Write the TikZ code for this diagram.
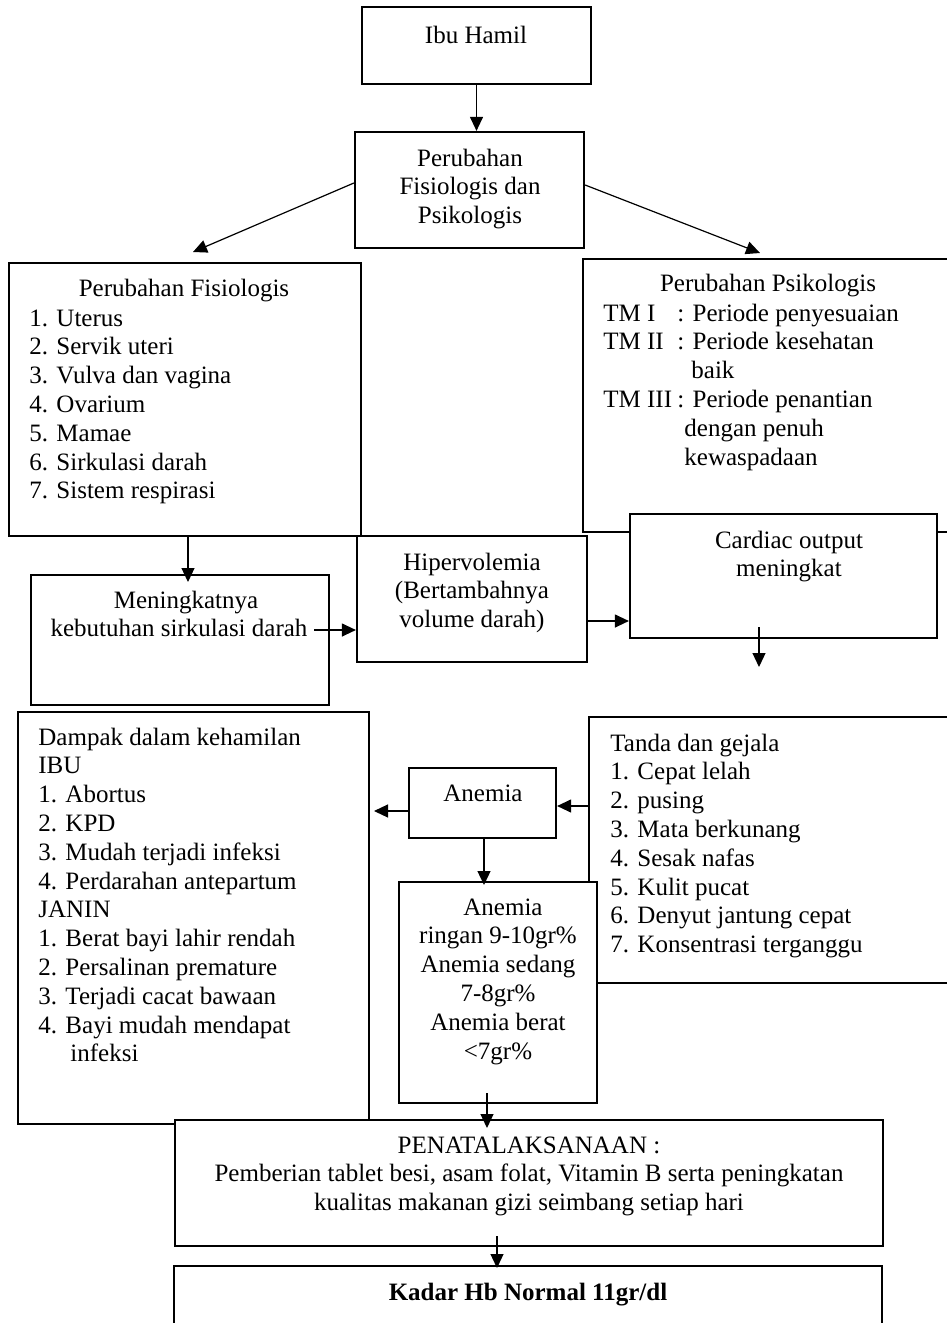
\documentclass[tikz,border=0pt]{standalone}
\usepackage{fontspec}
\setmainfont{Liberation Serif}
\usetikzlibrary{fit,calc,arrows.meta}
\begin{document}
\begin{tikzpicture}[x=0.5pt,y=-0.5pt,
 box/.style={draw, line width=1.1pt, fill=white, inner sep=0pt},
 txt/.style={inner sep=0pt, anchor=north, font=\fontsize{12.5}{14.4}\selectfont},
 arr/.style={line width=0.6pt, -{Triangle[length=7pt,width=6.5pt]}}]
\useasboundingbox (0,0) rectangle (947,1323);
\fill[white] (0,0) rectangle (947,1323);
% boxes
\node[box, fit={(362,7) (591,84)}] (ibu) {};
\node[box, fit={(355,132) (584,248)}] (pfp) {};
\node[box, fit={(9,263) (361,536)}] (fis) {};
\node[box, fit={(583,259) (965,532)}] (psi) {};
\node[box, fit={(630,514) (937,638)}] (car) {};
\node[box, fit={(357,536) (587,662)}] (hip) {};
\node[box, fit={(31,575) (329,705)}] (men) {};
\node[box, fit={(18,712) (369,1124)}] (dam) {};
\node[box, fit={(589,717) (965,983)}] (tan) {};
\node[box, fit={(409,768) (556,838)}] (ane) {};
\node[box, fit={(399,882) (597,1103)}] (rin) {};
\node[box, fit={(175,1120) (883,1246)}] (pen) {};
\node[box, fit={(174,1266) (882,1345)}] (kad) {};
% texts
\node[txt] (tIbu) at (476,22.5) {\strut Ibu Hamil};
\node[txt, align=center] (tPfp) at (470,145.5) {\strut Perubahan\\Fisiologis dan\\Psikologis};
\node[txt] (tFisT) at (184,275.5) {\strut Perubahan Fisiologis};
\node[txt, anchor=north west, align=left] (tFis) at (29,305.5) {\strut 1. Uterus\\2. Servik uteri\\3. Vulva dan vagina\\4. Ovarium\\5. Mamae\\6. Sirkulasi darah\\7. Sistem respirasi};
\node[txt] (tPsiT) at (768,270.5) {\strut Perubahan Psikologis};
\node[txt, anchor=north west, align=left] (tPsi) at (603,300.5) {\strut\makebox[37pt][l]{TM I}: Periode penyesuaian\\\makebox[37pt][l]{TM II}: Periode kesehatan\\\hspace*{44pt}baik\\\makebox[37pt][l]{TM III}: Periode penantian\\\hspace*{40.5pt}dengan penuh\\\hspace*{40.5pt}kewaspadaan};
\node[txt, align=center] (tCar) at (789,527.5) {\strut Cardiac output\\meningkat};
\node[txt, align=center] (tHip) at (472,549.5) {\strut Hipervolemia\\(Bertambahnya\\volume darah)};
\node[txt, align=center] (tMen) at (179,587.5) {\strut\hspace*{7pt}Meningkatnya\\kebutuhan sirkulasi darah};
\node[txt, anchor=north west, align=left] (tDam) at (38,724.5) {\strut Dampak dalam kehamilan\\IBU\\1. Abortus\\2. KPD\\3. Mudah terjadi infeksi\\4. Perdarahan antepartum\\JANIN\\1. Berat bayi lahir rendah\\2. Persalinan premature\\3. Terjadi cacat bawaan\\4. Bayi mudah mendapat\\\hspace*{16pt}infeksi};
\node[txt] (tAne) at (483,780.5) {\strut Anemia};
\node[txt, align=center] (tRin) at (498,894.5) {\strut\hspace*{5pt}Anemia\\ringan 9-10gr\%\\Anemia sedang\\7-8gr\%\\Anemia berat\\<7gr\%};
\node[txt, anchor=north west, align=left] (tTan) at (610,730.5) {\strut Tanda dan gejala\\1. Cepat lelah\\2. pusing\\3. Mata berkunang\\4. Sesak nafas\\5. Kulit pucat\\6. Denyut jantung cepat\\7. Konsentrasi terganggu};
\node[txt, align=center] (tPen) at (529,1132.5) {\strut PENATALAKSANAAN :\\Pemberian tablet besi, asam folat, Vitamin B serta peningkatan\\kualitas makanan gizi seimbang setiap hari};
\node[txt, font=\fontsize{12.5}{14.4}\selectfont\bfseries] (tKad) at (528,1279.5) {\strut Kadar Hb Normal 11gr/dl};
% connector ends
\coordinate (tipFis) at (193,252);
\coordinate (tipPsi) at (760,253);
\coordinate (menTip) at (188,582);
\coordinate (menSrc) at (314,630);
\coordinate (carSrc) at (759,627);
\coordinate (carTip) at (759,667);
\coordinate (aneTip) at (374,811);
\coordinate (rinTip) at (484,885);
\coordinate (rinSrc) at (487,1093);
\coordinate (penTip) at (487,1128);
\coordinate (penSrc) at (497,1236);
\coordinate (kadTip) at (497,1268);
% connectors
\draw[arr] (ibu.south) -- (ibu.south |- pfp.north);
\draw[arr] (pfp.west |- 0,183) -- (tipFis);
\draw[arr] (pfp.east |- 0,185) -- (tipPsi);
\draw[arr] (fis.south -| menTip) -- (menTip);
\draw[arr] (menSrc) -- (hip.west |- menSrc);
\draw[arr] (hip.east |- 0,621) -- (car.west |- 0,621);
\draw[arr] (carSrc) -- (carTip);
\draw[arr] (tan.west |- 0,806) -- (ane.east |- 0,806);
\draw[arr] (ane.west |- aneTip) -- (aneTip);
\draw[arr] (ane.south -| rinTip) -- (rinTip);
\draw[arr] (rinSrc) -- (penTip);
\draw[arr] (penSrc) -- (kadTip);
\end{tikzpicture}
\end{document}
